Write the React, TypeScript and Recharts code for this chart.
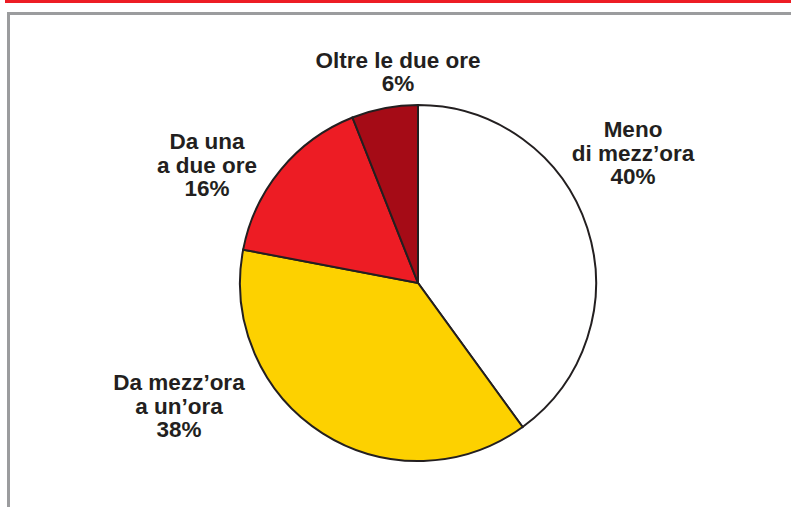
import React from "react";
import { PieChart, Pie, Cell } from "recharts";

// categories, clockwise from 12 o'clock
const categories = ["Meno di mezz'ora", "Da mezz'ora a un'ora", "Da una a due ore", "Oltre le due ore"];
const values = [40, 38, 16, 6];
const labelLines = [
  ["Meno", "di mezz\u2019ora", "40%"],
  ["Da mezz\u2019ora", "a un\u2019ora", "38%"],
  ["Da una", "a due ore", "16%"],
  ["Oltre le due ore", "6%"],
];

const COLORS = ["#ffffff", "#fdd100", "#ed1c24", "#a50b16"];
const INK = "#231f20";
// label block centre, relative to pie centre
const LABEL_OFFSETS = [
  { dx: 215, dy: -130 },
  { dx: -239, dy: 123 },
  { dx: -211, dy: -118 },
  { dx: -20, dy: -211 },
];
const LINE_H = 23.5;

const chartData = categories.map((name, i) => ({ name, value: values[i] }));

function renderLabel(props: any) {
  const { cx, cy, index } = props;
  const off = LABEL_OFFSETS[index];
  const lines = labelLines[index];
  const top = cy + off.dy - ((lines.length - 1) * LINE_H) / 2;
  return (
    <text
      key={"lbl" + index}
      textAnchor="middle"
      fill={INK}
      fontFamily="'Liberation Sans', Arial, sans-serif"
      fontWeight={700}
      fontSize={22.5}
    >
      {lines.map((l, j) => (
        <tspan key={j} x={cx + off.dx} y={top + j * LINE_H} dominantBaseline="central">
          {l}
        </tspan>
      ))}
    </text>
  );
}

export default function App() {
  return (
    <div style={{ position: "relative", width: 791, height: 507, background: "#fff", overflow: "hidden" }}>
      <style>{`body{margin:0}`}</style>
      <div style={{ position: "absolute", left: 5, top: 0, width: 786, height: 3, background: "#ed1c24" }} />
      <div
        style={{
          position: "absolute",
          left: 7,
          top: 12,
          width: 784,
          height: 495,
          borderTop: "3px solid #9b9c9e",
          borderLeft: "3px solid #9b9c9e",
          boxSizing: "border-box",
        }}
      />
      <div style={{ position: "absolute", left: 0, top: 0 }}>
        <PieChart width={791} height={507} margin={{ top: 0, right: 0, bottom: 0, left: 0 }}>
          <Pie
            data={chartData}
            dataKey="value"
            nameKey="name"
            cx={418}
            cy={283}
            outerRadius={178}
            startAngle={90}
            endAngle={-270}
            stroke={INK}
            strokeWidth={2}
            label={renderLabel}
            labelLine={false}
            isAnimationActive={false}
          >
            {chartData.map((d, i) => (
              <Cell key={d.name} fill={COLORS[i]} />
            ))}
          </Pie>
        </PieChart>
      </div>
    </div>
  );
}
